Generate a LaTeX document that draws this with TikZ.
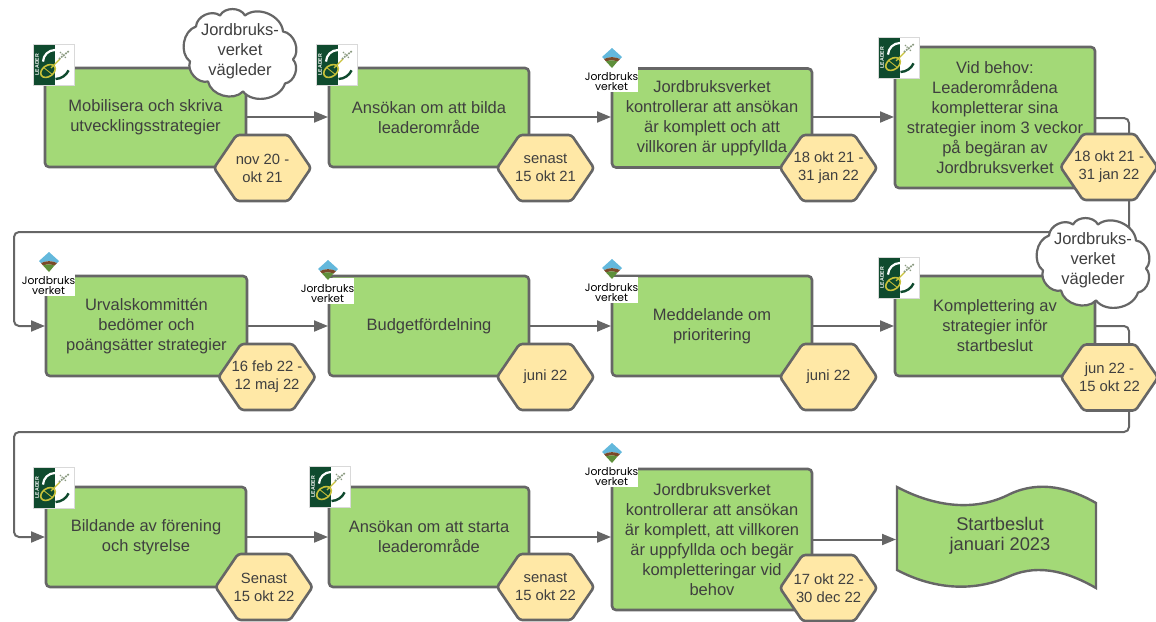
\documentclass[tikz,border=0pt]{standalone}
\usepackage{fontspec}
\setmainfont{Liberation Sans}
\newfontfamily\logofont{Poppins}
\usetikzlibrary{arrows.meta}
\definecolor{boxgreen}{HTML}{A3D977}
\definecolor{hexyellow}{HTML}{FFE8A6}
\definecolor{linegray}{HTML}{666666}
\definecolor{txt}{HTML}{3F3F3F}
\definecolor{leaderdark}{HTML}{0F4A2E}
\definecolor{leafyellow}{HTML}{C9C23A}
\definecolor{spray}{HTML}{8A9A80}
\definecolor{jbblue}{HTML}{63B8DC}
\definecolor{jbbrown}{HTML}{7A4A2A}
\definecolor{jbgreen}{HTML}{5E8F3A}
\tikzset{
  proc/.style={draw=linegray,line width=2.6pt,fill=boxgreen,rounded corners=4pt,align=center,text=txt,
    font=\fontsize{16.5}{20}\selectfont,inner sep=0pt,outer sep=0pt},
  hexs/.style={draw=linegray,line width=2.6pt,fill=hexyellow,rounded corners=3pt},
  hext/.style={align=center,text=txt,font=\fontsize{14.8}{18}\selectfont,inner sep=0pt},
  cloudline/.style={draw=linegray,line width=2.2pt,fill=white,line join=round},
  cloudt/.style={align=center,text=txt,font=\fontsize{16.5}{20}\selectfont,inner sep=0pt},
  finalt/.style={align=center,text=txt,font=\fontsize{18.3}{20}\selectfont,inner sep=0pt},
  conn/.style={draw=linegray,line width=2pt,rounded corners=5pt,-{Triangle[length=14pt,width=11pt]},shorten >=1pt},
  leaderlogo/.pic={
    \fill[white] (0,0) rectangle (41,41);
    \fill[leaderdark] (0,0) rectangle (22,41);
    \draw[draw=black!15!white,line width=0.6pt] (0,0) rectangle (41,41);
    \node[rotate=90,text=white,font=\fontsize{5.2}{6}\bfseries\selectfont,inner sep=0pt] at (4,20.5) {LEADER};
    \draw[white,line width=2.2pt] (22,6) arc[start angle=-90,end angle=-178,radius=12];
    \draw[leaderdark,line width=2.4pt] (22,20) ++(25:15) arc[start angle=25,end angle=88,radius=15];
    \draw[leafyellow,line width=1.6pt,rotate around={35:(15,27)}] (15,27) ellipse[x radius=8,y radius=5.5];
    \draw[leafyellow,line width=0.8pt] (10,23) -- (20,31);
    \draw[leafyellow,line width=1.3pt] (18,24) -- (27,15);
    \draw[spray,line width=1.7pt,densely dotted] (26,15) -- (36,7);
    \draw[spray,line width=1.3pt,densely dotted] (27,8) -- (33,14);
  },
  jbvlogo/.pic={
    \fill[white] (0,18) rectangle (53,44);
    \fill[jbblue] (27,0) -- (37,9) -- (35,11) .. controls (29,8.5) and (25,8.5) .. (19,11) -- (17,9) -- cycle;
    \fill[jbbrown] (19,11) .. controls (25,8.5) and (29,8.5) .. (35,11) -- (32.5,13.5) .. controls (28,12) and (25,12) .. (21,13.5) -- cycle;
    \fill[jbgreen] (21,13.5) .. controls (25,12) and (28,12) .. (32.5,13.5) -- (27,20) -- cycle;
    \node[align=center,text=black,font=\fontsize{10.8}{10}\logofont\selectfont,inner sep=0pt] at (26.5,34) {Jordbruks\\verket};
  },
}
\newcommand{\hexa}[3]{%
  \draw[hexs,shift={(#2)}] (-48.5,0)--(-26,-33)--(26,-33)--(48.5,0)--(26,33)--(-26,33)--cycle;
  \node[hext] (#1) at (#2) {#3};}
\newcommand{\cloudy}[3]{%
  \draw[cloudline,shift={(#2)}] (-44,-25) to[bend left=62] (-20,-36) to[bend left=62] (5,-36)
    to[bend left=62] (43,-20) to[bend left=62] (53,8) to[bend left=62] (45,32)
    to[bend left=62] (3,40) to[bend left=62] (-32,30) to[bend left=62] (-50,10)
    to[bend left=62] (-44,-25) -- cycle;
  \node[cloudt] (#1) at (#2) {#3};}
\begin{document}
\begin{tikzpicture}[x=1pt,y=-1pt]
\useasboundingbox (0,0) rectangle (1156,621);
% boxes
\node[proc,minimum width=201pt,minimum height=99pt] (b1) at (145.5,117.5) {Mobilisera och skriva\\utvecklingsstrategier};
\node[proc,minimum width=200pt,minimum height=99pt] (b2) at (429,117.5) {Ansökan om att bilda\\leaderområde};
\node[proc,minimum width=200pt,minimum height=99pt] (b3) at (712,118) {Jordbruksverket\\kontrollerar att ansökan\\är komplett och att\\villkoren är uppfyllda};
\node[proc,minimum width=200pt,minimum height=141pt] (b4) at (995,117.5) {Vid behov:\\Leaderområdena\\kompletterar sina\\strategier inom 3 veckor\\på begäran av\\Jordbruksverket};
\node[proc,minimum width=201pt,minimum height=100pt] (b5) at (146.5,326) {Urvalskommittén\\bedömer och\\poängsätter strategier};
\node[proc,minimum width=200pt,minimum height=100pt] (b6) at (429,326) {Budgetfördelning};
\node[proc,minimum width=200pt,minimum height=100pt] (b7) at (712,326) {Meddelande om\\prioritering};
\node[proc,minimum width=200pt,minimum height=100pt] (b8) at (995,326) {Komplettering av\\strategier inför\\startbeslut};
\node[proc,minimum width=200pt,minimum height=100pt] (b9) at (146,537) {Bildande av förening\\och styrelse};
\node[proc,minimum width=200pt,minimum height=100pt] (b10) at (429,537) {Ansökan om att starta\\leaderområde};
\node[proc,minimum width=200pt,minimum height=141pt] (b11) at (712,539.5) {Jordbruksverket\\kontrollerar att ansökan\\är komplett, att villkoren\\är uppfyllda och begär\\kompletteringar vid\\behov};
% final wavy shape
\draw[draw=linegray,line width=2.4pt,fill=boxgreen,line join=miter]
  (897,487) .. controls (935,507) and (975,512) .. (1010,494)
  .. controls (1040,480) and (1070,488) .. (1096,503)
  -- (1096,588)
  .. controls (1070,573) and (1040,563) .. (1010,576)
  .. controls (975,592) and (935,590) .. (897,570) -- cycle;
\node[finalt] (f) at (1000,535.5) {Startbeslut\\januari 2023};
\coordinate (fw) at (897,539.5);
% connectors
\draw[conn] (b1.east |- 0,117) -- (b2.west |- 0,117);
\draw[conn] (b2.east |- 0,117) -- (b3.west |- 0,117);
\draw[conn] (b3.east |- 0,117) -- (b4.west |- 0,117);
\coordinate (r1) at (1129,118);
\coordinate (r2) at (14,232);
\draw[conn] (b4.east |- r1) -- (r1) -- (1129,232) -- (r2) -- (14,326) -- (b5.west);
\draw[conn] (b5.east) -- (b6.west);
\draw[conn] (b6.east) -- (b7.west);
\draw[conn] (b7.east) -- (b8.west);
\coordinate (r3) at (1129,326);
\coordinate (r4) at (14,432);
\draw[conn] (b8.east) -- (r3) -- (1129,432) -- (r4) -- (14,537) -- (b9.west);
\draw[conn] (b9.east) -- (b10.west);
\draw[conn] (b10.east) -- (b11.west |- b10.east);
\draw[conn] (b11.east) -- (fw);
% hexagons
\hexa{h1}{262.5,168}{nov 20 -\\okt 21}
\hexa{h2}{545.5,168}{senast\\15 okt 21}
\hexa{h3}{828.5,168}{18 okt 21 -\\31 jan 22}
\hexa{h4}{1109,167}{18 okt 21 -\\31 jan 22}
\hexa{h5}{267,377}{16 feb 22 -\\12 maj 22}
\hexa{h6}{545.5,377}{juni 22}
\hexa{h7}{828.5,377}{juni 22}
\hexa{h8}{1109.5,377.5}{jun 22 -\\15 okt 22}
\hexa{h9}{264,587}{Senast\\15 okt 22}
\hexa{h10}{545.5,587}{senast\\15 okt 22}
\hexa{h11}{828.5,588}{17 okt 22 -\\30 dec 22}
% clouds
\cloudy{c1}{240,51.5}{Jordbruks-\\verket\\vägleder}
\cloudy{c2}{1093,260.5}{Jordbruks-\\verket\\vägleder}
% logos
\pic at (33,44) {leaderlogo};
\pic at (316,44) {leaderlogo};
\pic at (878,37) {leaderlogo};
\pic at (878,257) {leaderlogo};
\pic at (33,467) {leaderlogo};
\pic at (309,466) {leaderlogo};
\pic at (585,48) {jbvlogo};
\pic at (22,252) {jbvlogo};
\pic at (301,260) {jbvlogo};
\pic at (585,259) {jbvlogo};
\pic at (585,443) {jbvlogo};
\end{tikzpicture}
\end{document}
